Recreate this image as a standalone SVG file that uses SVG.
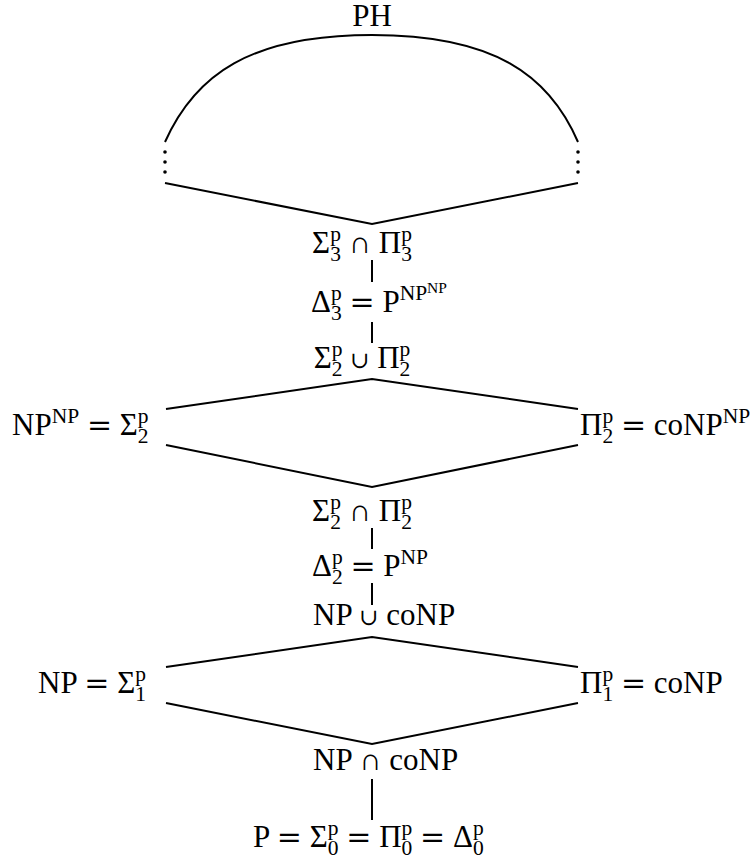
<svg xmlns="http://www.w3.org/2000/svg" width="756" height="862" viewBox="0 0 756 862">
<style>
.t{font-family:"Liberation Serif","DejaVu Serif",serif;font-size:31px;fill:#000}
.s{font-size:21.5px}
.ss{font-size:15.5px}
.eq{font-family:"DejaVu Serif",serif;font-size:30px}
.cup{font-family:"DejaVu Serif",serif;font-size:23px}
.edge{fill:none;stroke:#000;stroke-width:2;stroke-linejoin:miter}
.dot{fill:#000}
</style>
<rect width="756" height="862" fill="#fff"/>
<g id="connectors">
<path class="edge" d="M165,142 C195,75 250,35 372,35 C494,35 549,75 578,142"/>
<circle class="dot" cx="165" cy="152" r="1.8"/><circle class="dot" cx="165" cy="162" r="1.8"/><circle class="dot" cx="165" cy="172" r="1.8"/>
<circle class="dot" cx="578" cy="152" r="1.8"/><circle class="dot" cx="578" cy="162" r="1.8"/><circle class="dot" cx="578" cy="172" r="1.8"/>
<polyline class="edge" points="165,183 372,224 578,183"/>
<line class="edge" x1="372" y1="260" x2="372" y2="282"/>
<line class="edge" x1="372" y1="322" x2="372" y2="343"/>
<polyline class="edge" points="166,409 372,379 578,409"/>
<polyline class="edge" points="166,445 372,487 578,445"/>
<line class="edge" x1="372" y1="528" x2="372" y2="549"/>
<line class="edge" x1="372" y1="583" x2="372" y2="605"/>
<polyline class="edge" points="166,667 372,637 578,667"/>
<polyline class="edge" points="166,703 372,744 578,703"/>
<line class="edge" x1="372" y1="779" x2="372" y2="820"/>
</g>
<g id="ph"><text class="t" x="372" y="26" text-anchor="middle">PH</text></g>
<g id="sigma3-cap-pi3"><text class="t" x="362" y="253" text-anchor="middle">Σ<tspan class="s" dy="-12">p</tspan><tspan class="s" dx="-10.75" dy="20">3</tspan><tspan dy="-8"> ∩ Π</tspan><tspan class="s" dy="-12">p</tspan><tspan class="s" dx="-10.75" dy="20">3</tspan></text></g>
<g id="delta3"><text class="t" x="379" y="312" text-anchor="middle">Δ<tspan class="s" dy="-12">p</tspan><tspan class="s" dx="-10.75" dy="20">3</tspan><tspan dy="-8"> </tspan><tspan class="eq">=</tspan> P<tspan class="s" dy="-12">NP</tspan><tspan class="ss" dy="-7">NP</tspan></text></g>
<g id="sigma2-cup-pi2"><text class="t" x="362" y="368" text-anchor="middle">Σ<tspan class="s" dy="-12">p</tspan><tspan class="s" dx="-10.75" dy="20">2</tspan><tspan dy="-8"> </tspan><tspan class="cup">∪</tspan> Π<tspan class="s" dy="-12">p</tspan><tspan class="s" dx="-10.75" dy="20">2</tspan></text></g>
<g id="sigma2"><text class="t" x="12" y="435">NP<tspan class="s" dy="-12">NP</tspan><tspan dy="12"> </tspan><tspan class="eq">=</tspan> Σ<tspan class="s" dy="-12">p</tspan><tspan class="s" dx="-10.75" dy="20">2</tspan></text></g>
<g id="pi2"><text class="t" x="580" y="435">Π<tspan class="s" dy="-12">p</tspan><tspan class="s" dx="-10.75" dy="20">2</tspan><tspan dy="-8"> </tspan><tspan class="eq">=</tspan> coNP<tspan class="s" dy="-12">NP</tspan></text></g>
<g id="sigma2-cap-pi2"><text class="t" x="362" y="521" text-anchor="middle">Σ<tspan class="s" dy="-12">p</tspan><tspan class="s" dx="-10.75" dy="20">2</tspan><tspan dy="-8"> ∩ Π</tspan><tspan class="s" dy="-12">p</tspan><tspan class="s" dx="-10.75" dy="20">2</tspan></text></g>
<g id="delta2"><text class="t" x="370" y="576" text-anchor="middle">Δ<tspan class="s" dy="-12">p</tspan><tspan class="s" dx="-10.75" dy="20">2</tspan><tspan dy="-8"> </tspan><tspan class="eq">=</tspan> P<tspan class="s" dy="-12">NP</tspan></text></g>
<g id="np-cup-conp"><text class="t" x="313" y="625">NP <tspan class="cup">∪</tspan> coNP</text></g>
<g id="sigma1"><text class="t" x="38" y="693">NP <tspan class="eq">=</tspan> Σ<tspan class="s" dy="-12">p</tspan><tspan class="s" dx="-10.75" dy="20">1</tspan></text></g>
<g id="pi1"><text class="t" x="580" y="693">Π<tspan class="s" dy="-12">p</tspan><tspan class="s" dx="-10.75" dy="20">1</tspan><tspan dy="-8"> </tspan><tspan class="eq">=</tspan> coNP</text></g>
<g id="np-cap-conp"><text class="t" x="313" y="770">NP ∩ coNP</text></g>
<g id="p"><text class="t" x="253" y="847">P <tspan class="eq">=</tspan> Σ<tspan class="s" dy="-12">p</tspan><tspan class="s" dx="-10.75" dy="20">0</tspan><tspan dy="-8"> </tspan><tspan class="eq">=</tspan> Π<tspan class="s" dy="-12">p</tspan><tspan class="s" dx="-10.75" dy="20">0</tspan><tspan dy="-8"> </tspan><tspan class="eq">=</tspan> Δ<tspan class="s" dy="-12">p</tspan><tspan class="s" dx="-10.75" dy="20">0</tspan></text></g>
</svg>
